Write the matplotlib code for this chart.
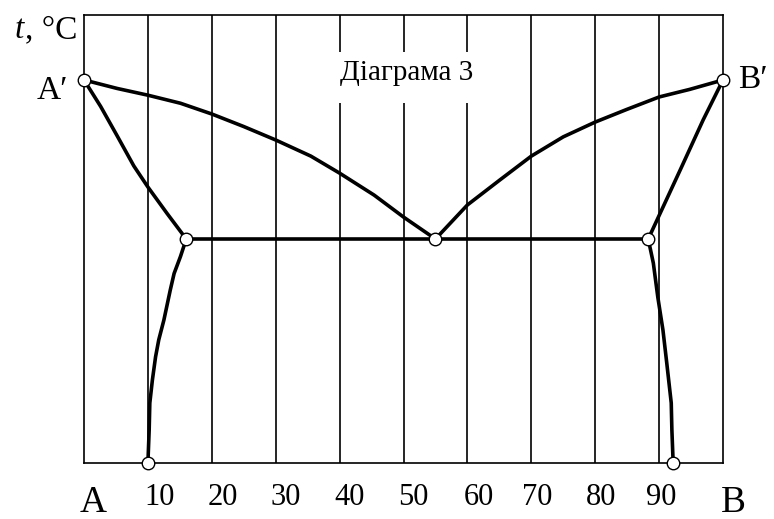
import matplotlib
matplotlib.use("Agg")
import matplotlib.pyplot as plt
from matplotlib.patches import Rectangle

# ---- data (composition %, temperature in relative units) ----
grid_x = [10, 20, 30, 40, 50, 60, 70, 80, 90]
tick_labels = ["10", "20", "30", "40", "50", "60", "70", "80", "90"]
label_x = [11.9, 21.7, 31.5, 41.6, 51.5, 61.8, 70.9, 80.9, 90.3]

liq_left_x = [0, 5.2, 10, 15.1, 20, 25.0, 30, 35.5, 40, 45.4, 50, 55]
liq_left_t = [85.5, 83.6, 82.1, 80.3, 77.9, 75.1, 72.1, 68.5, 64.7, 59.8, 54.9, 50]
liq_right_x = [55, 60, 65.1, 70, 75.0, 80, 84.9, 90, 94.8, 100]
liq_right_t = [50, 57.6, 63.2, 68.5, 72.8, 76.1, 78.9, 81.7, 83.4, 85.5]

sol_left_x = [0, 2.6, 5.2, 7.8, 10, 13.0, 16]
sol_left_t = [85.5, 79.6, 73.0, 66.3, 61.6, 55.7, 50]
sol_right_x = [88.3, 93.3, 96.9, 100]
sol_right_t = [50, 65.4, 76.6, 85.5]

solv_left_x = [16, 15.1, 14.1, 13.5, 12.5, 11.7, 11.2, 10.7, 10.3, 10.2, 10.0]
solv_left_t = [50, 46.1, 42.3, 38.6, 31.9, 27.5, 23.7, 18.5, 13.4, 7.4, 0]
solv_right_x = [88.3, 89.1, 89.8, 90.6, 91.2, 91.9, 92.0, 92.2]
solv_right_t = [50, 44.6, 37, 29.7, 22.3, 13.4, 7.4, 0]

eut_x = [16, 88.3]
eut_t = [50, 50]

pts_x = [0, 100, 16, 55, 88.3, 10.0, 92.2]
pts_t = [85.5, 85.5, 50, 50, 50, 0, 0]

title = "Діаграма 3"

serif = ["Liberation Serif", "DejaVu Serif"]

fig = plt.figure(figsize=(7.74, 5.19), dpi=100)
ax = fig.add_axes([84/774, (519-463)/519, (723-84)/774, (463-15)/519])
ax.set_xlim(0, 100)
ax.set_ylim(0, 100)
ax.set_xticks([])
ax.set_yticks([])
for s in ax.spines.values():
    s.set_linewidth(1.2)
    s.set_color("black")

for gx in grid_x:
    ax.axvline(gx, color="black", lw=1.2, zorder=1)

# white patch behind title interrupting grid lines
ax.add_patch(Rectangle((37.7, 80.4), 25.8, 11.3, facecolor="white",
                       edgecolor="none", zorder=2))

lw = 2.6
for xs, ts in [(liq_left_x, liq_left_t), (liq_right_x, liq_right_t),
               (sol_left_x, sol_left_t), (sol_right_x, sol_right_t),
               (solv_left_x, solv_left_t), (solv_right_x, solv_right_t),
               (eut_x, eut_t)]:
    ax.plot(xs, ts, color="black", lw=lw, zorder=3, solid_capstyle="round",
            solid_joinstyle="round")

ax.plot(pts_x, pts_t, linestyle="none", marker="o", markersize=9,
        markerfacecolor="white", markeredgecolor="black", markeredgewidth=1.0,
        zorder=5, clip_on=False)

ax.text(50.5, 87.0, title, ha="center", va="center", fontsize=21,
        family=serif, zorder=4)

for lx, lab in zip(label_x, tick_labels):
    ax.text(lx, -9.4, lab, ha="center", va="baseline", fontsize=22,
            family=serif, clip_on=False)

ax.text(1.4, -10.9, "A", ha="center", va="baseline", fontsize=27,
        family=serif, clip_on=False)
ax.text(101.6, -10.9, "B", ha="center", va="baseline", fontsize=27,
        family=serif, clip_on=False)
ax.text(-2.5, 81.2, "A\u2032", ha="right", va="baseline", fontsize=24,
        family=serif, clip_on=False)
ax.text(102.3, 83.7, "B\u2032", ha="left", va="baseline", fontsize=24,
        family=serif, clip_on=False)
ax.text(-10.8, 94.9, "t", ha="left", va="baseline", fontsize=24,
        family=serif, style="italic", clip_on=False)
ax.text(-9.3, 94.9, ", \u00b0C", ha="left", va="baseline", fontsize=24,
        family=serif, clip_on=False)

fig.savefig("out.png", dpi=100)
